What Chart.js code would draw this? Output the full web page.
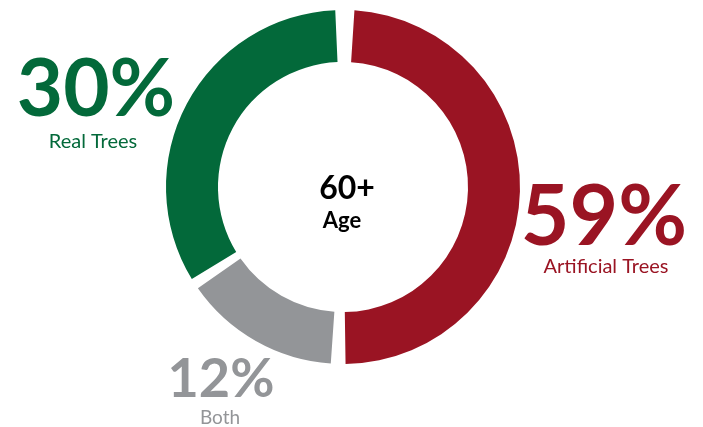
<!DOCTYPE html>
<html>
<head>
<meta charset="utf-8">
<script src="https://cdn.jsdelivr.net/npm/chart.js@4/dist/chart.umd.min.js"></script>
<style>
  html, body { margin: 0; padding: 0; background: #fff; }
  #wrap { width: 703px; height: 427px; position: relative; }
</style>
</head>
<body>
<div id="wrap"><canvas id="treeChart"></canvas></div>
<script>
// slice sizes as drawn in the picture (clockwise from top)
const categories = ['Artificial Trees', 'Both', 'Real Trees']
const sliceValues = [50.8, 14.8, 34.4]
const percentLabels = ['59%', '12%', '30%']
const centerTitle = '60+'
const centerSub = 'Age'

const colors = ['#9a1423', '#939598', '#03693a']
const font = 'Lato, "Open Sans", sans-serif'

// big percentage + caption next to each slice
const labelPlugin = {
    id: 'sliceLabels',
    afterDraw(chart) {
        const ctx = chart.ctx
        const spots = [
            { x: 604, y: 245, size: 84, cx: 606, cy: 273, csize: 20 },
            { x: 221, y: 397, size: 54, cx: 220, cy: 424, csize: 19 },
            { x: 96, y: 116, size: 80, cx: 93, cy: 148, csize: 20 }
        ]
        ctx.save()
        ctx.textAlign = 'center'
        ctx.textBaseline = 'alphabetic'
        spots.forEach((s, i) => {
            ctx.fillStyle = colors[i]
            ctx.font = 'bold ' + s.size + 'px ' + font
            ctx.fillText(percentLabels[i], s.x, s.y)
            ctx.font = s.csize + 'px ' + font
            ctx.fillText(categories[i], s.cx, s.cy)
        })
        ctx.fillStyle = '#000'
        ctx.font = 'bold 32px ' + font
        ctx.fillText(centerTitle, 347, 199)
        ctx.font = 'bold 22px ' + font
        ctx.fillText(centerSub, 342, 228)
        ctx.restore()
    }
}

new Chart(document.getElementById('treeChart'), {
    type: 'doughnut',
    data: {
        labels: categories,
        datasets: [{
            data: sliceValues,
            backgroundColor: colors,
            borderWidth: 0,
            spacing: 12
        }]
    },
    options: {
        responsive: true,
        maintainAspectRatio: false,
        animation: false,
        events: [],
        radius: 171,
        cutout: '69.6%',
        layout: { padding: { left: 0, right: 17, top: 0, bottom: 53 } },
        plugins: {
            legend: { display: false },
            tooltip: { enabled: false }
        }
    },
    plugins: [labelPlugin]
})
</script>
</body>
</html>
